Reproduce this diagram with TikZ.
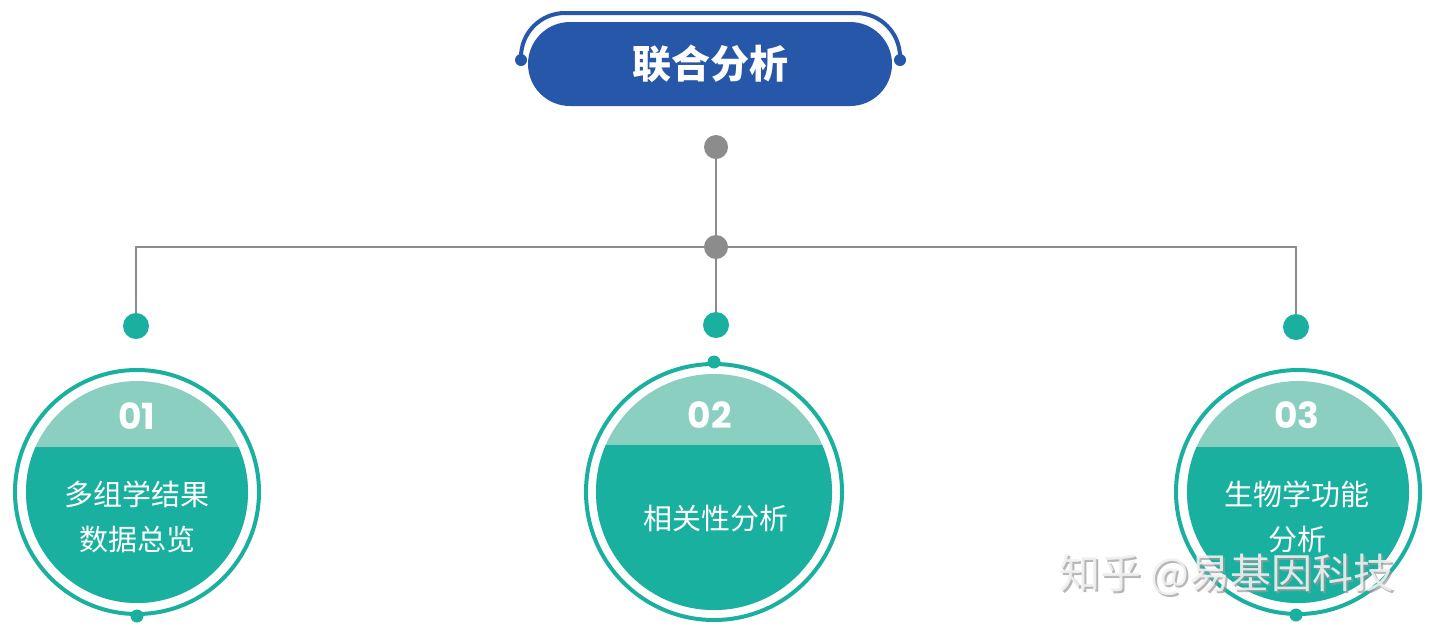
\documentclass[tikz,border=0pt]{standalone}
\usepackage{fontspec}
\newfontfamily\cjk{Noto Sans CJK SC}
\newfontfamily\numfont{Poppins}
\definecolor{navy}{HTML}{2757A8}
\definecolor{tealD}{HTML}{1AB0A0}
\definecolor{tealL}{HTML}{8BCFC0}
\definecolor{greyc}{HTML}{8C8C8C}
\tikzset{
  pill/.style={rectangle, rounded corners=42pt, fill=navy, minimum width=364pt, minimum height=84pt, text=white, font=\cjk\bfseries\fontsize{39pt}{41pt}\selectfont},
  gdot/.style={circle, fill=greyc, inner sep=0pt, minimum size=24pt},
  tdot/.style={circle, fill=tealD, inner sep=0pt, minimum size=26pt},
  sdot/.style={circle, fill=tealD, inner sep=0pt, minimum size=13pt},
  gline/.style={draw=greyc, line width=2.8pt},
  ring/.style={circle, draw=tealD, line width=4pt, fill=white, inner sep=0pt},
  num/.style={text=white, font=\numfont\bfseries\fontsize{36pt}{38pt}\selectfont},
  lbl/.style={text=white, align=center, font=\cjk\fontsize{29pt}{45pt}\selectfont},
  wm/.style={font=\cjk\fontsize{41pt}{43pt}\selectfont}
}
\begin{document}
\begin{tikzpicture}[x=1pt,y=-1pt]
\useasboundingbox[fill=white] (0,0) rectangle (1440,633);
% title
\draw[navy, line width=4pt, rounded corners=44pt] (521,60) |- (710,13) -| (900,60);
\node[circle, fill=navy, inner sep=0pt, minimum size=12pt] (ld) at (521,60) {};
\node[circle, fill=navy, inner sep=0pt, minimum size=12pt] (rd) at (900,60) {};
\node[pill] (title) at (710,64) {联合分析};
% connectors
\node[gdot] (g1) at (716,147) {};
\node[gdot] (g2) at (716,247) {};
\node[tdot] (t1) at (136,326) {};
\node[tdot] (t2) at (716,325) {};
\node[tdot] (t3) at (1296,327) {};
\draw[gline] (g1) -- (g2);
\draw[gline] (g2) -| (t1);
\draw[gline] (g2) -| (t3);
\draw[gline] (g2) -- (t2);
% circle 1
\node[ring, minimum size=244pt] (c1) at (137,492) {};
\fill[tealL] (137,492) circle (111pt);
\begin{scope}
\clip (137,492) circle (111pt);
\fill[tealD] (0,447) rectangle (300,640);
\end{scope}
\node[sdot] (s1) at (137,616) {};
\node[num] (n1) at (137,416) {01};
\node[lbl] (l1) at (137,517) {多组学结果\\数据总览};
% circle 2
\node[ring, minimum size=256pt] (c2) at (714,492) {};
\fill[tealL] (714,492) circle (118pt);
\begin{scope}
\clip (714,492) circle (118pt);
\fill[tealD] (560,445) rectangle (870,640);
\end{scope}
\node[sdot] (s2) at (714,362) {};
\node[num] (n2) at (710,415) {02};
\node[lbl] (l2) at (716,519) {相关性分析};
% circle 3
\node[ring, minimum size=244pt] (c3) at (1298,492) {};
\fill[tealL] (1298,492) circle (111pt);
\begin{scope}
\clip (1298,492) circle (111pt);
\fill[tealD] (1150,447) rectangle (1440,640);
\end{scope}
\node[sdot] (s3) at (1296,615) {};
\node[num] (n3) at (1297,415) {03};
\node[lbl] (l3) at (1297,517) {生物学功能\\分析};
% watermark
\node[wm, text=gray!80, opacity=0.7] (wms) at (1229,577) {知乎 @易基因科技};
\node[wm, text=white!88!gray, opacity=0.9] (wmt) at (1227,575) {知乎 @易基因科技};
\end{tikzpicture}
\end{document}
